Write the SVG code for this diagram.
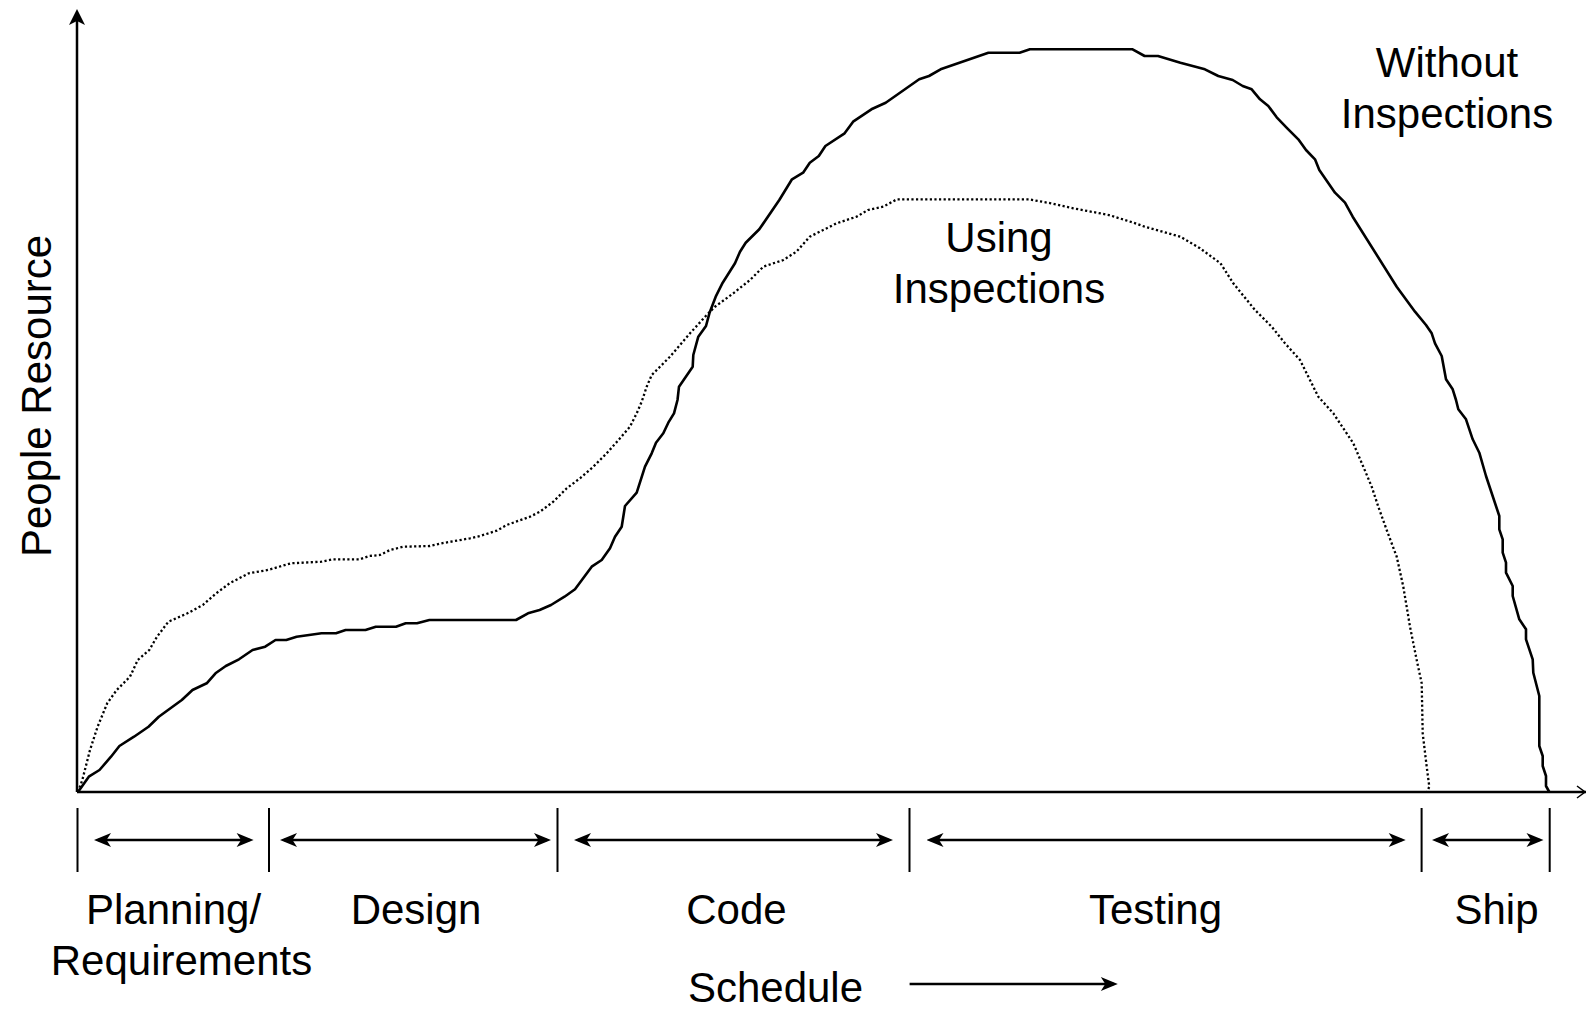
<svg xmlns="http://www.w3.org/2000/svg" width="1586" height="1009" viewBox="0 0 1586 1009">
<style>
text{font-family:"Liberation Sans",Arial,Helvetica,sans-serif;font-size:42px;fill:#000}
.ax{stroke:#000;stroke-width:2.5;fill:none}
.tick{stroke:#000;stroke-width:2;fill:none}
.dbl{stroke:#000;stroke-width:2.6;fill:none;marker-start:url(#ah);marker-end:url(#ah)}
.solid{stroke:#000;stroke-width:2.6;fill:none;stroke-linejoin:round}
.dot{stroke:#000;stroke-width:2.3;fill:none;stroke-dasharray:2.2 2.4}
</style>
<defs>
<marker id="ah" viewBox="-18 -8 18 16" refX="-4" refY="0" markerWidth="18" markerHeight="16" markerUnits="userSpaceOnUse" orient="auto-start-reverse">
<path d="M0,0 L-17,-7 L-12.5,0 L-17,7 Z" fill="#000"/>
</marker>
<marker id="ahy" viewBox="-18 -9 18 18" refX="-4" refY="0" markerWidth="18" markerHeight="18" markerUnits="userSpaceOnUse" orient="auto">
<path d="M0,0 L-16,-8 L-12,0 L-16,8 Z" fill="#000"/>
</marker>
</defs>
<rect x="0" y="0" width="1586" height="1009" fill="#fff"/>
<g id="axes">
<path class="ax" d="M77,792 V13" marker-end="url(#ahy)"/>
<path class="ax" d="M77,792 H1586"/>
<path d="M1577,786 L1585,792 L1577,798" stroke="#000" stroke-width="1.5" fill="none"/>
</g>
<g id="curve-without">
<polyline class="solid" points="78,792 88.8,776.7 99.5,770 111,756.7 119.4,746 134,736.7 148.5,726.7 158.8,716.7 181.8,700 192.5,690 206.7,683.3 215.5,673.3 225.8,666 239,659.3 252.6,650 265.2,646.7 275.5,640 286.3,640 296.6,636.7 321.5,633.3 336,633.3 345.6,630 365.5,630 375.8,626.7 396,626.7 405.7,623.3 417,623.3 429.4,620 516,620 528,613.3 539.6,610 551,605 564.5,596.7 575,589.3 591.7,566.7 601.7,560 610,548.3 615,536.7 621.7,526.7 625,506 636.7,492.7 645,466.7 651.7,453.3 656,442.7 663.3,433.3 668.3,422.7 674,413.3 677.5,400 679,386.7 692.7,366.7 693.3,355 698.3,336.7 706,326 709.4,313.3 715.7,296.7 722.7,282.7 735,263.3 740,251.7 745.7,242.7 759.3,229.3 779.3,200 792,179.3 803.1,172.7 809.8,162.7 818.8,156 825.4,146 844.6,133.3 853.1,121.7 871.4,109.3 885.7,102.7 919.2,79.3 929,76 940.6,69.3 988.4,52.7 1019.6,52.7 1029.9,49.3 1132.6,49.3 1144.6,56 1158,56 1180.4,62.7 1204.9,69.3 1218.3,76 1232.7,80 1242.7,86 1251.7,89.3 1260,99.3 1268.3,106 1276.7,117.3 1287.3,128.3 1298.3,139.3 1306,150 1315,159.3 1319.3,170 1335,192.7 1345,202.7 1352.7,216.7 1396.7,286.7 1415,311.7 1426,325 1431.7,333.3 1435,343.3 1441.7,356 1446,379.3 1452.7,389.3 1456,400 1458.3,409.3 1466,419.3 1472.7,439.3 1479.3,452.7 1486,476 1499.3,516 1499.3,529.3 1502.7,539.3 1502.7,552.7 1506,562.7 1506,572.7 1512.7,586 1512.7,596 1519.3,619.3 1526,629.3 1526,639.3 1532.7,659.3 1533.3,672.7 1539.3,696 1539.3,746 1542.7,756 1542.7,766 1546,776 1546,786 1549.3,792"/>
</g>
<g id="curve-using">
<polyline class="dot" points="78,792 82.3,780 90,750 97.6,726.7 107.2,703.3 116.7,690 130,676.7 137.8,660 149.3,650 157,636.7 168.4,621.7 187.5,613.3 202.8,605 216.2,593.3 229.6,583.3 248.8,573.3 267.9,570 290.9,563.3 321.5,561.7 333,559.3 359.7,559.3 369.3,556 380,555 390,550 403.3,546.7 430,546 441.7,543.3 470,538.3 480,536 496.7,530.7 506.7,525 530,516.7 540,511.7 553.3,501.7 566.7,488.3 580,478.3 593.3,466.7 606.7,453.3 620,438.3 630,426.7 636.7,413.3 641.7,401.7 646.7,386.7 651.7,375 670,356.7 690,333.3 706.7,315 715,306.7 733.3,293.3 750,280 763.3,266.7 783.3,260 796.4,251.7 809.8,236.7 836.6,223.3 856.7,216.7 867.9,210 883.3,206.7 896.9,199.3 1028.6,199.3 1050.9,203.3 1073.2,208.3 1108.9,215 1133.5,222.7 1144.6,226.7 1180.4,236.7 1200,248.3 1220.5,263.3 1233.3,283.3 1255,310 1271.7,326.7 1285,343.3 1300,360 1318.3,396.7 1333.3,413.3 1353.3,443.3 1363.3,466.7 1371.7,486.7 1378.3,506.7 1386.7,530 1396.7,556.7 1403.3,586.7 1410,626.7 1416.7,660 1421.7,683.3 1422.7,733.3 1426.7,766.7 1429.3,786.7 1427,792"/>
</g>
<g id="phase-ticks">
<path class="tick" d="M77.5,808 V872 M269,808 V872 M557.5,808 V872 M909.5,808 V872 M1421.6,808 V872 M1549.7,808 V872"/>
</g>
<g id="phase-arrows">
<path class="dbl" d="M98,840 H249.6"/>
<path class="dbl" d="M284,840 H547"/>
<path class="dbl" d="M578,840 H889"/>
<path class="dbl" d="M930.5,840 H1401.7"/>
<path class="dbl" d="M1436,840 H1539.5"/>
</g>
<g id="labels" text-anchor="middle">
<text x="173.5" y="924">Planning/</text>
<text x="181.5" y="975">Requirements</text>
<text x="416" y="924">Design</text>
<text x="736.4" y="924">Code</text>
<text x="1155.5" y="924">Testing</text>
<text x="1496.5" y="924">Ship</text>
<text x="775.5" y="1002">Schedule</text>
<text x="999" y="252">Using</text>
<text x="999" y="303">Inspections</text>
<text x="1447" y="77">Without</text>
<text x="1447" y="127.5">Inspections</text>
<text transform="translate(51,396) rotate(-90)">People Resource</text>
</g>
<g id="schedule-arrow">
<path d="M909.6,984 H1113.8" stroke="#000" stroke-width="2.6" fill="none" marker-end="url(#ah)"/>
</g>
</svg>
